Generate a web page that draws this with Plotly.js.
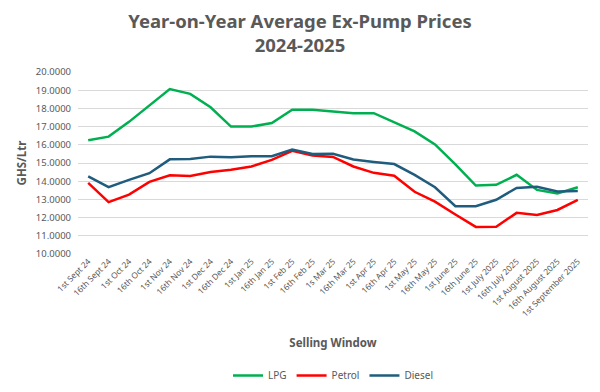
<!DOCTYPE html>
<html><head><meta charset="utf-8">
<script src="https://cdn.plot.ly/plotly-3.0.1.min.js"></script>
<style>html,body{margin:0;padding:0;background:#fff;}#chart{width:600px;height:392px;}</style>
</head><body><div id="chart"></div>
<script>
const categories = ["1st Sept 24","16th Sept 24","1st Oct 24","16th Oct 24","1st Nov 24","16th Nov 24","1st Dec 24","16th Dec 24","1st Jan 25","16th Jan 25","1st Feb 25","16th Feb 25","1s Mar 25","16th Mar 25","1st Apr 25","16th Apr 25","1st May 25","16th May 25","1st June 25","16th June 25","1st July 2025","16th July 2025","1st August 2025","16th August 2025","1st September 2025"];
const lpg = [16.25,16.45,17.26,18.15,19.06,18.80,18.06,17.00,17.00,17.20,17.93,17.93,17.82,17.74,17.74,17.22,16.74,16.02,14.93,13.76,13.80,14.35,13.52,13.33,13.67];
const petrol = [13.91,12.85,13.26,13.96,14.33,14.28,14.50,14.63,14.81,15.17,15.67,15.41,15.33,14.81,14.46,14.30,13.42,12.88,12.17,11.49,11.50,12.26,12.15,12.42,12.97];
const diesel = [14.26,13.67,14.07,14.44,15.20,15.22,15.35,15.31,15.37,15.37,15.74,15.50,15.51,15.19,15.06,14.94,14.35,13.67,12.63,12.63,12.98,13.63,13.70,13.43,13.46];

const font = "'Noto Sans', 'Open Sans', sans-serif";
const gray = "#595959";
function tr(name, y, color){
  return {x: categories, y: y, name: name, type: "scatter", mode: "lines",
    line: {color: color, width: 2.5}};
}
const data = [tr("LPG", lpg, "#00b050"), tr("Petrol", petrol, "#ff0000"), tr("Diesel", diesel, "#1f5c7e")];
const layout = {
  width: 600, height: 392,
  margin: {l: 78, r: 12, t: 72, b: 138, autoexpand: false},
  paper_bgcolor: "#fff", plot_bgcolor: "#fff",
  font: {family: font, color: gray},
  title: {text: "<b>Year-on-Year Average Ex-Pump Prices<br>2024-2025</b>", x: 0.5, xanchor: "center", yref: "container", y: 1 - 28/392, yanchor: "middle",
    font: {size: 18.5, color: gray, family: font}},
  xaxis: {type: "category", range: [-0.5, 24.5], tickangle: -45, tickfont: {size: 8.3, color: gray},
    automargin: false,
    showgrid: false, zeroline: false, showline: false, ticks: "",
    title: {text: "<b>Selling Window</b>", font: {size: 11.5, color: gray}, standoff: 21}},
  yaxis: {range: [10, 20], dtick: 1, tickformat: ".4f", tickfont: {size: 9.5, color: gray},
    automargin: false,
    showgrid: true, gridcolor: "#d9d9d9", gridwidth: 1, zeroline: false, showline: false, ticks: "",
    ticklabelstandoff: 6,
    title: {text: "<b>GHS/Ltr</b>", font: {size: 11.5, color: gray}, standoff: 6}},
  showlegend: true,
  legend: {orientation: "h", x: 0.5, xanchor: "center", yref: "container", y: 1 - 361/392, yanchor: "top", font: {size: 10, color: gray}},
};
Plotly.newPlot("chart", data, layout, {staticPlot: true, displayModeBar: false});
</script></body></html>
